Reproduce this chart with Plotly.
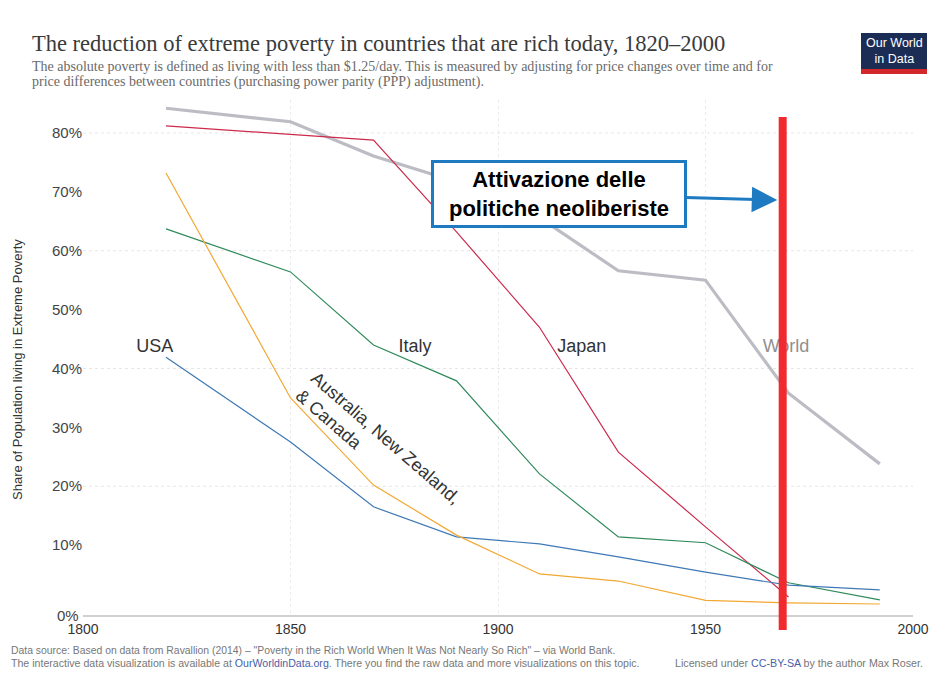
import plotly.graph_objects as go

# ---------------- data ----------------
years = [1820, 1850, 1870, 1890, 1910, 1929, 1950, 1970, 1992]
world = [84.2, 81.9, 76.1, 71.7, 65.6, 56.6, 55.0, 35.8, 23.8]
japan_years = [1820, 1850, 1870, 1890, 1910, 1929, 1950, 1970]
japan = [81.2, 79.7, 78.8, 63.2, 47.0, 25.8, 13.1, 1.2]
italy = [63.7, 56.4, 44.0, 37.9, 22.1, 11.4, 10.4, 3.6, 0.7]
usa = [41.9, 27.5, 16.5, 11.4, 10.2, 8.0, 5.4, 3.2, 2.4]
aus_nz_can = [73.2, 35.0, 20.2, 11.7, 5.1, 3.9, 0.6, 0.2, 0.0]

y_tick_vals = [10, 20, 30, 40, 50, 60, 70, 80]
y_tick_text = [f"{v}%" for v in y_tick_vals]
y_grid_vals = [20, 40, 60, 80]
x_tick_vals = [1800, 1850, 1900, 1950, 2000]

label_names = ["USA", "Italy", "Japan", "World"]
label_x = [1817.3, 1880.0, 1920.2, 1969.4]
label_y = [43.6, 43.6, 43.6, 43.6]
label_colors = ["#333333", "#333333", "#333333", "#8f8f8f"]

policy_year = 1968.6

# ---------------- layout geometry (screen coords) ----------------
FIG_W, FIG_H = 929, 698
SL, SR, ST, SB = 83, 913, 100, 615
L, R, T, B = SL, FIG_W - SR, ST, FIG_H - SB
PW, PH = SR - SL, SB - ST


def px(xs):
    return (xs - SL) / PW


def py(ys):
    return (SB - ys) / PH


FONT = "Liberation Sans"
SERIF = "Liberation Serif"

fig = go.Figure()

line_specs = [
    ("World", years, world, "#bcbcc4", 3.2),
    ("Japan", japan_years, japan, "#cc2a4c", 1.2),
    ("Italy", years, italy, "#2f8a5c", 1.2),
    ("USA", years, usa, "#3f79b5", 1.2),
    ("Australia, New Zealand, & Canada", years, aus_nz_can, "#f2a833", 1.2),
]
for name, xs, ys, col, w in line_specs:
    fig.add_trace(go.Scatter(x=xs, y=ys, mode="lines", name=name,
                             line=dict(color=col, width=w), hoverinfo="skip"))

fig.add_trace(go.Scatter(
    x=label_x, y=label_y, mode="text", text=label_names,
    textfont=dict(family=FONT, size=18, color=label_colors),
    textposition="middle center", hoverinfo="skip", showlegend=False))

shapes = []
for gv in y_grid_vals:
    shapes.append(dict(type="line", xref="paper", yref="y", x0=0, x1=1, y0=gv, y1=gv,
                       line=dict(color="#e6e6e6", width=1, dash="dot"), layer="below"))
# red marker line
shapes.append(dict(type="line", xref="x", yref="paper", x0=policy_year, x1=policy_year,
                   y0=py(630), y1=py(117), line=dict(color="#f02a2e", width=8), layer="above"))
# logo
shapes.append(dict(type="rect", xref="paper", yref="paper", x0=px(861), x1=px(927),
                   y0=py(69), y1=py(33), fillcolor="#1b2d55", line=dict(width=0)))
shapes.append(dict(type="rect", xref="paper", yref="paper", x0=px(861), x1=px(927),
                   y0=py(74), y1=py(69), fillcolor="#d2282a", line=dict(width=0)))

annotations = [
    dict(text="The reduction of extreme poverty in countries that are rich today, 1820–2000",
         xref="paper", yref="paper", x=px(30), y=py(43.5), xanchor="left", yanchor="middle",
         showarrow=False, font=dict(family=SERIF, size=22.5, color="#3a3a3a")),
    dict(text="The absolute poverty is defined as living with less than $1.25/day. This is measured by adjusting for price changes over time and for",
         xref="paper", yref="paper", x=px(30), y=py(66.5), xanchor="left", yanchor="middle",
         align="left", showarrow=False, font=dict(family=SERIF, size=14, color="#6a6a6a")),
    dict(text="price differences between countries (purchasing power parity (PPP) adjustment).",
         xref="paper", yref="paper", x=px(30), y=py(82), xanchor="left", yanchor="middle",
         align="left", showarrow=False, font=dict(family=SERIF, size=14, color="#6a6a6a")),
    dict(text="Our World<br>in Data", xref="paper", yref="paper", x=px(894), y=py(51),
         xanchor="center", yanchor="middle", showarrow=False,
         font=dict(family=FONT, size=12.5, color="white")),
    dict(text="Share of Population living in Extreme Poverty", xref="paper", yref="paper",
         x=px(17), y=py(370), xanchor="center", yanchor="middle", textangle=-90,
         showarrow=False, font=dict(family=FONT, size=13, color="#333333")),
    dict(text="0%", xref="paper", yref="paper", x=px(81), y=py(615), xanchor="right",
         yanchor="middle", showarrow=False, font=dict(family=FONT, size=15, color="#444444")),
    dict(text="Australia, New Zealand,<br>& Canada", xref="x", yref="y", x=1871.1, y=26.8,
         xanchor="center", yanchor="middle", align="left", textangle=41, showarrow=False,
         font=dict(family=FONT, size=18, color="#333333")),
    dict(text="<b>Attivazione delle<br>politiche neoliberiste</b>", xref="x", yref="y",
         x=1967.3, y=68.6, ax=-218, ay=-6, axref="pixel", ayref="pixel",
         showarrow=True, arrowhead=2, arrowsize=1.7, arrowwidth=3, arrowcolor="#1f7bc1",
         bgcolor="white", bordercolor="#1f7bc1", borderwidth=3, borderpad=2,
         width=246, height=58, align="center",
         font=dict(family=FONT, size=22, color="black")),
    dict(text="Data source: Based on data from Ravallion (2014) – \"Poverty in the Rich World When It Was Not Nearly So Rich\" – via World Bank.",
         xref="paper", yref="paper", x=px(9), y=py(650), xanchor="left", yanchor="middle",
         showarrow=False, font=dict(family=FONT, size=10.4, color="#777777")),
    dict(text="The interactive data visualization is available at <span style='color:#4a5ea8'>OurWorldinData.org</span>. There you find the raw data and more visualizations on this topic.",
         xref="paper", yref="paper", x=px(9), y=py(663), xanchor="left", yanchor="middle",
         showarrow=False, font=dict(family=FONT, size=10.6, color="#777777")),
    dict(text="Licensed under <span style='color:#4a5ea8'>CC-BY-SA</span> by the author Max Roser.",
         xref="paper", yref="paper", x=px(925), y=py(663), xanchor="right", yanchor="middle",
         showarrow=False, font=dict(family=FONT, size=10.7, color="#777777")),
]

fig.update_layout(
    width=FIG_W, height=FIG_H, autosize=False,
    margin=dict(l=L, r=R, t=T, b=B, pad=0, autoexpand=False),
    paper_bgcolor="white", plot_bgcolor="white",
    showlegend=False, hovermode=False,
    shapes=shapes, annotations=annotations,
    xaxis=dict(range=[1800, 2000], tickvals=x_tick_vals, ticks="", automargin=False,
               showgrid=True, gridcolor="#ebebeb", griddash="dot", gridwidth=1,
               showline=True, linecolor="#d0d0d0", linewidth=2, zeroline=False,
               tickfont=dict(family=FONT, size=14, color="#333333")),
    yaxis=dict(range=[-1.87, 85.6], tickvals=y_tick_vals, ticktext=y_tick_text, ticks="",
               automargin=False, showgrid=False, zeroline=False, showline=False,
               tickfont=dict(family=FONT, size=15, color="#444444")),
)

post_js = (
    "document.body.style.margin='0px';"
    "document.body.style.overflow='hidden';"
)

fig.write_html("out.html", post_script=post_js,
               config={"responsive": False, "displayModeBar": False, "staticPlot": True})
